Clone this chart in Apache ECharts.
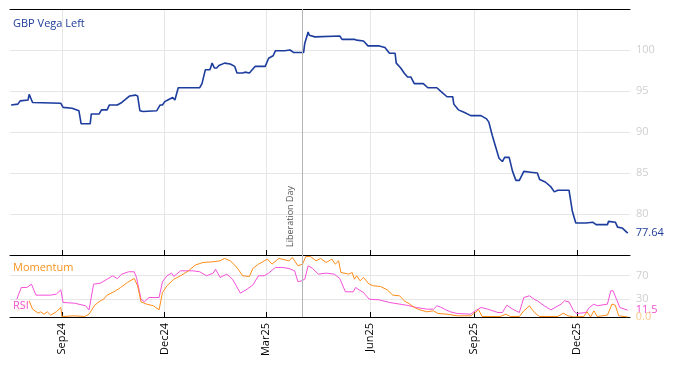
<!DOCTYPE html>
<html><head><meta charset="utf-8">
<script src="https://cdn.jsdelivr.net/npm/echarts@6/dist/echarts.min.js"></script>
<style>html,body{margin:0;padding:0;background:#fff}#c{width:674px;height:366px}</style>
</head><body><div id="c"></div>
<script>
const vegaDates = ['2024-07-18','2024-07-24','2024-07-26','2024-08-02','2024-08-03','2024-08-06','2024-08-31','2024-09-02','2024-09-10','2024-09-16','2024-09-18','2024-09-26','2024-09-27','2024-10-04','2024-10-06','2024-10-11','2024-10-13','2024-10-20','2024-10-24','2024-10-31','2024-11-05','2024-11-07','2024-11-09','2024-11-12','2024-11-24','2024-11-27','2024-11-29','2024-12-01','2024-12-05','2024-12-08','2024-12-10','2024-12-13','2025-01-01','2025-01-03','2025-01-06','2025-01-10','2025-01-12','2025-01-14','2025-01-16','2025-01-18','2025-01-23','2025-01-28','2025-02-01','2025-02-03','2025-02-08','2025-02-10','2025-02-14','2025-02-19','2025-02-28','2025-03-03','2025-03-07','2025-03-09','2025-03-17','2025-03-22','2025-03-25','2025-04-03','2025-04-04','2025-04-07','2025-04-08','2025-04-13','2025-05-05','2025-05-07','2025-05-18','2025-05-20','2025-05-26','2025-05-30','2025-06-09','2025-06-14','2025-06-18','2025-06-23','2025-06-24','2025-06-28','2025-07-01','2025-07-04','2025-07-07','2025-07-10','2025-07-18','2025-07-22','2025-07-30','2025-08-03','2025-08-08','2025-08-13','2025-08-14','2025-08-18','2025-08-23','2025-08-29','2025-09-07','2025-09-12','2025-09-14','2025-09-17','2025-09-20','2025-09-23','2025-09-26','2025-09-28','2025-10-02','2025-10-05','2025-10-08','2025-10-11','2025-10-15','2025-10-21','2025-10-27','2025-10-29','2025-11-03','2025-11-08','2025-11-11','2025-11-14','2025-11-24','2025-11-25','2025-11-27','2025-11-30','2025-12-09','2025-12-10','2025-12-15','2025-12-18','2025-12-28','2025-12-29','2026-01-04','2026-01-06','2026-01-10','2026-01-14','2026-01-15'];
const vegaValues = [93.3,93.4,93.8,93.9,94.6,93.6,93.5,93.0,92.9,92.6,91.0,91.0,92.2,92.2,92.7,92.7,93.3,93.3,93.6,94.4,94.5,94.4,92.6,92.5,92.6,93.3,93.3,93.7,94.0,94.2,93.9,95.4,95.4,95.9,97.6,97.6,98.4,97.8,97.8,98.1,98.4,98.3,98.0,97.2,97.2,97.3,97.2,98.0,98.0,99.0,99.3,99.9,99.9,100.0,99.7,99.7,100.8,102.2,101.8,101.6,101.7,101.3,101.3,101.2,101.1,100.5,100.5,100.3,99.6,99.6,98.4,97.8,97.2,96.7,96.7,95.9,95.9,95.4,95.4,94.9,94.3,94.3,93.4,92.7,92.4,92.0,92.0,91.6,91.2,89.6,88.2,86.8,86.4,86.9,86.9,85.2,84.1,84.1,85.2,85.1,85.0,84.2,83.9,83.3,82.7,82.9,82.9,82.7,80.3,78.9,78.9,79.1,79.0,78.7,78.7,79.1,79.0,78.4,78.3,77.8,77.64];

const rsiDates = ['2024-07-23','2024-07-27','2024-08-01','2024-08-05','2024-08-06','2024-08-09','2024-08-22','2024-08-27','2024-08-31','2024-09-02','2024-09-12','2024-09-22','2024-09-25','2024-09-29','2024-10-05','2024-10-11','2024-10-16','2024-10-20','2024-10-24','2024-10-30','2024-11-04','2024-11-06','2024-11-10','2024-11-13','2024-11-17','2024-11-26','2024-11-29','2024-12-03','2024-12-07','2024-12-09','2024-12-15','2024-12-26','2025-01-01','2025-01-07','2025-01-13','2025-01-15','2025-01-19','2025-01-25','2025-01-30','2025-02-06','2025-02-11','2025-02-17','2025-02-22','2025-02-27','2025-03-03','2025-03-09','2025-03-15','2025-03-21','2025-03-26','2025-03-29','2025-04-01','2025-04-04','2025-04-07','2025-04-11','2025-04-16','2025-04-23','2025-04-30','2025-05-05','2025-05-10','2025-05-17','2025-05-19','2025-05-22','2025-05-26','2025-05-31','2025-06-09','2025-06-18','2025-07-03','2025-07-12','2025-07-21','2025-07-27','2025-07-30','2025-08-02','2025-08-07','2025-08-11','2025-08-17','2025-08-29','2025-09-02','2025-09-07','2025-09-13','2025-09-22','2025-09-26','2025-09-30','2025-10-05','2025-10-11','2025-10-15','2025-10-20','2025-10-24','2025-10-27','2025-11-02','2025-11-08','2025-11-17','2025-11-20','2025-11-24','2025-11-28','2025-12-01','2025-12-09','2025-12-12','2025-12-16','2025-12-19','2025-12-28','2025-12-31','2026-01-02','2026-01-05','2026-01-08','2026-01-15'];
const rsiValues = [30,50,50,55.6,57,37,37,38.7,46,24.6,23.4,19,12,55.6,57.3,64,69.8,65,72.6,76.6,76.6,67,30.2,25.7,33,33,59.6,69.8,74.3,68.6,78.2,78.2,76.6,69.8,74.3,81,67,72.6,64,40.4,46,54,69.8,69.8,74.3,83.9,83.9,82.2,78.2,59.6,61.3,64,86.7,82.2,72.6,74.3,72.6,65.3,42.7,42.7,50,46,41.5,30.2,29,24.6,20,16.1,13.3,13.3,19,17,12.1,8.8,5.9,4.8,10.5,16.1,13.3,7.6,7.6,20,13.3,7.6,33,35.9,30.2,27.4,19,12.1,21.8,27.4,25.7,10.5,5.9,7.6,16.1,21.8,19,21.8,44.4,44.4,30.2,16.1,11.5];

const momDates = ['2024-07-24','2024-08-03','2024-08-06','2024-08-11','2024-08-13','2024-08-16','2024-08-19','2024-08-22','2024-08-27','2024-08-31','2024-09-01','2024-09-12','2024-09-21','2024-09-25','2024-09-30','2024-10-05','2024-10-08','2024-10-11','2024-10-17','2024-10-23','2024-10-29','2024-11-04','2024-11-07','2024-11-10','2024-11-15','2024-11-21','2024-11-26','2024-11-29','2024-12-03','2024-12-09','2024-12-15','2024-12-22','2024-12-28','2025-01-04','2025-01-13','2025-01-19','2025-01-23','2025-01-28','2025-02-03','2025-02-08','2025-02-14','2025-02-17','2025-02-22','2025-03-02','2025-03-06','2025-03-12','2025-03-21','2025-03-24','2025-03-29','2025-04-02','2025-04-05','2025-04-09','2025-04-14','2025-04-18','2025-04-23','2025-04-28','2025-05-01','2025-05-04','2025-05-06','2025-05-13','2025-05-16','2025-05-18','2025-05-20','2025-05-23','2025-05-26','2025-05-31','2025-06-04','2025-06-10','2025-06-16','2025-06-21','2025-06-27','2025-07-01','2025-07-06','2025-07-10','2025-07-15','2025-07-21','2025-07-27','2025-07-31','2025-08-08','2025-08-17','2025-08-29','2025-09-02','2025-09-05','2025-09-08','2025-09-24','2025-09-29','2025-10-03','2025-10-11','2025-10-15','2025-10-20','2025-10-22','2025-10-26','2025-10-29','2025-11-14','2025-11-19','2025-11-23','2025-11-28','2025-12-07','2025-12-10','2025-12-13','2025-12-16','2025-12-19','2025-12-28','2026-01-01','2026-01-04','2026-01-07','2026-01-15'];
const momValues = [10,27,13.3,6.5,8.8,4.8,8.8,3.1,8.8,16.1,0.8,2,0.8,4.8,20,27.4,30.2,37,42.7,50,58.5,65.3,52.8,25.7,21.8,19,12.1,41.5,52.8,64,69.8,78.2,87.9,92.4,93.5,95.2,99.2,95.2,83.9,69.8,68.6,82.2,89.5,98,89.5,99.2,95.2,100.8,86.7,89.5,102.5,102.5,95.2,99.2,92.4,98,89.5,95.2,75.4,72.6,75.4,64,69.8,61.3,67,55.6,52.8,51.7,46,37,35.9,27.4,21.8,16.1,12.1,8.8,10.5,5.9,4.8,2,2,7.6,12.1,0.8,0.8,4.8,0.8,0.8,10.5,19,13.3,4.8,0.8,0.8,6.5,2,0.3,0.8,8.8,0,10.5,0.8,3.1,21.8,20,2,0];

const tickDates = ['2024-09-01','2024-12-01','2025-03-01','2025-06-01','2025-09-01','2025-12-01'];
const monthNames = ['Jan','Feb','Mar','Apr','May','Jun','Jul','Aug','Sep','Oct','Nov','Dec'];
const axisMin = '2024-07-17';
const axisMax = '2026-01-17';
const liberationDay = '2025-04-02';
const vegaTicks = [80,85,90,95,100];
const lowerTicks = [30,70];

const pd = s => echarts.number.parseDate(s).getTime();
const tickVals = tickDates.map(pd);
const zip = (d, v) => d.map((x, i) => [pd(x), v[i]]);
const FONT = 'Open Sans';
const fmtDate = v => { const d = new Date(v); return monthNames[d.getMonth()] + String(d.getFullYear()).slice(2); };
const xMin = pd(axisMin), xMax = pd(axisMax), libX = pd(liberationDay);

const chart = echarts.init(document.getElementById('c'), null, {renderer: 'canvas'});
chart.setOption({
  animation: false,
  textStyle: {fontFamily: FONT},
  title: [
    {text: 'GBP Vega Left', left: 13, top: 18, padding: 0, textStyle: {fontSize: 11, fontWeight: 'normal', color: '#1f3c9a', fontFamily: FONT}},
    {text: 'Momentum', left: 13, top: 262, padding: 0, backgroundColor: 'rgba(255,255,255,0.75)', textStyle: {fontSize: 11, fontWeight: 'normal', color: '#f7931e', fontFamily: FONT}},
    {text: 'RSI', left: 13, top: 300, padding: 0, backgroundColor: 'rgba(255,255,255,0.75)', textStyle: {fontSize: 11, fontWeight: 'normal', color: '#f050d0', fontFamily: FONT}}
  ],
  grid: [
    {left: 10, right: 44, top: 9, height: 246},
    {left: 10, right: 44, top: 255, height: 62}
  ],
  xAxis: [
    {type: 'value', gridIndex: 0, min: xMin, max: xMax, position: 'bottom',
     axisLine: {show: true, onZero: false, lineStyle: {color: '#000', width: 1}},
     axisTick: {show: true, inside: true, length: 5, lineStyle: {color: '#000'}, customValues: tickVals},
     axisLabel: {show: false, customValues: tickVals},
     splitLine: {show: true, lineStyle: {color: '#e6e6e6', width: 1}}},
    {type: 'value', gridIndex: 0, min: xMin, max: xMax, position: 'top',
     axisLine: {show: true, onZero: false, lineStyle: {color: '#000', width: 1}},
     axisTick: {show: false}, axisLabel: {show: false}, splitLine: {show: false}},
    {type: 'value', gridIndex: 1, min: xMin, max: xMax, position: 'bottom',
     axisLine: {show: true, onZero: false, lineStyle: {color: '#000', width: 1}},
     axisTick: {show: true, inside: true, length: 5, lineStyle: {color: '#000'}, customValues: tickVals},
     axisLabel: {show: true, rotate: 90, fontSize: 11, color: '#000', margin: 6, fontFamily: FONT, customValues: tickVals, formatter: fmtDate},
     splitLine: {show: true, lineStyle: {color: '#e6e6e6', width: 1}}}
  ],
  yAxis: [
    {type: 'value', gridIndex: 0, position: 'right', min: 75, max: 105,
     axisLine: {show: false}, axisTick: {show: false, customValues: vegaTicks},
     axisLabel: {show: true, customValues: vegaTicks, color: '#cfcfcf', fontSize: 11, margin: 6, fontFamily: FONT},
     splitLine: {show: true, lineStyle: {color: '#e6e6e6', width: 1}}},
    {type: 'value', gridIndex: 1, position: 'right', min: 0, max: 105,
     axisLine: {show: false}, axisTick: {show: false, customValues: lowerTicks},
     axisLabel: {show: true, customValues: lowerTicks, color: '#cfcfcf', fontSize: 11, margin: 6, fontFamily: FONT},
     splitLine: {show: true, lineStyle: {color: '#e6e6e6', width: 1}}}
  ],
  series: [
    {name: 'GBP Vega Left', type: 'line', xAxisIndex: 0, yAxisIndex: 0, data: zip(vegaDates, vegaValues),
     showSymbol: false, symbol: 'none', lineStyle: {color: '#1c3c9e', width: 1.6}, itemStyle: {color: '#1c3c9e'},
     endLabel: {show: true, distance: 8, color: '#1f3c9a', fontSize: 11, fontFamily: FONT, formatter: p => p.value[1].toFixed(2)},
     markLine: {silent: true, symbol: ['none', 'none'], lineStyle: {color: '#b4b4b4', width: 1, type: 'solid'},
       label: {show: true, formatter: 'Liberation Day', position: 'insideStartTop', color: '#555', fontSize: 9, fontFamily: FONT, distance: 8},
       emphasis: {disabled: true},
       data: [{xAxis: libX}]}},
    {name: 'RSI', type: 'line', xAxisIndex: 2, yAxisIndex: 1, data: zip(rsiDates, rsiValues),
     showSymbol: false, symbol: 'none', lineStyle: {color: '#f550d8', width: 1}, itemStyle: {color: '#f550d8'},
     endLabel: {show: true, distance: 8, color: '#f050d0', fontSize: 11, fontFamily: FONT, formatter: p => p.value[1].toFixed(1)},
     markLine: {silent: true, symbol: ['none', 'none'], lineStyle: {color: '#b4b4b4', width: 1, type: 'solid'},
       label: {show: false}, emphasis: {disabled: true}, data: [{xAxis: libX}]}},
    {name: 'Momentum', type: 'line', xAxisIndex: 2, yAxisIndex: 1, data: zip(momDates, momValues),
     showSymbol: false, symbol: 'none', lineStyle: {color: '#ff8c1a', width: 1}, itemStyle: {color: '#ff8c1a'},
     endLabel: {show: true, distance: 8, color: '#ffc88c', fontSize: 11, fontFamily: FONT, formatter: p => p.value[1].toFixed(1)}}
  ]
});
</script></body></html>
